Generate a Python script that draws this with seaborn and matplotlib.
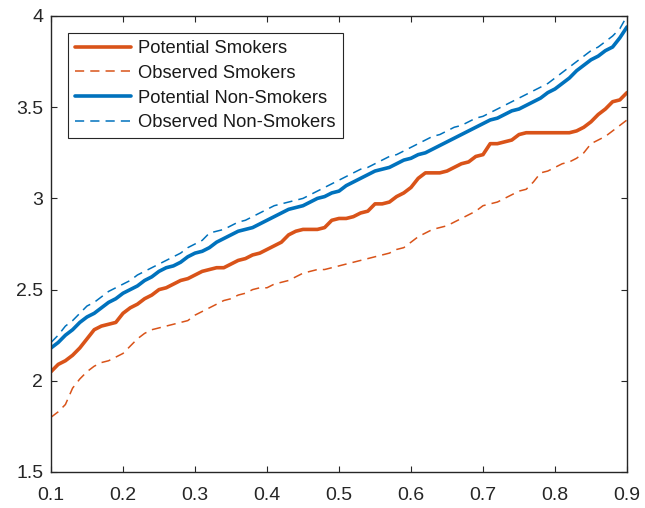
import numpy as np
import pandas as pd
import matplotlib
matplotlib.use("Agg")
import matplotlib.pyplot as plt
import seaborn as sns

quantiles = [round(0.10 + 0.01 * i, 2) for i in range(81)]

potential_smokers = [
    2.05, 2.09, 2.11, 2.14, 2.18, 2.23, 2.28, 2.30, 2.31, 2.32,
    2.37, 2.40, 2.42, 2.45, 2.47, 2.50, 2.51, 2.53, 2.55, 2.56,
    2.58, 2.60, 2.61, 2.62, 2.62, 2.64, 2.66, 2.67, 2.69, 2.70,
    2.72, 2.74, 2.76, 2.80, 2.82, 2.83, 2.83, 2.83, 2.84, 2.88,
    2.89, 2.89, 2.90, 2.92, 2.93, 2.97, 2.97, 2.98, 3.01, 3.03,
    3.06, 3.11, 3.14, 3.14, 3.14, 3.15, 3.17, 3.19, 3.20, 3.23,
    3.24, 3.30, 3.30, 3.31, 3.32, 3.35, 3.36, 3.36, 3.36, 3.36,
    3.36, 3.36, 3.36, 3.37, 3.39, 3.42, 3.46, 3.49, 3.53, 3.54,
    3.58,
]

observed_smokers = [
    1.80, 1.83, 1.87, 1.96, 2.01, 2.05, 2.08, 2.10, 2.11, 2.13,
    2.15, 2.19, 2.23, 2.26, 2.28, 2.29, 2.30, 2.31, 2.32, 2.33,
    2.36, 2.38, 2.40, 2.42, 2.44, 2.45, 2.47, 2.48, 2.50, 2.51,
    2.51, 2.53, 2.54, 2.55, 2.57, 2.59, 2.60, 2.61, 2.61, 2.62,
    2.63, 2.64, 2.65, 2.66, 2.67, 2.68, 2.69, 2.70, 2.72, 2.73,
    2.76, 2.79, 2.81, 2.83, 2.84, 2.85, 2.87, 2.89, 2.91, 2.93,
    2.96, 2.97, 2.98, 3.00, 3.02, 3.04, 3.05, 3.09, 3.14, 3.15,
    3.17, 3.19, 3.20, 3.22, 3.25, 3.30, 3.32, 3.34, 3.37, 3.40,
    3.43,
]

potential_nonsmokers = [
    2.18, 2.21, 2.25, 2.28, 2.32, 2.35, 2.37, 2.40, 2.43, 2.45,
    2.48, 2.50, 2.52, 2.55, 2.57, 2.60, 2.62, 2.63, 2.65, 2.68,
    2.70, 2.71, 2.73, 2.76, 2.78, 2.80, 2.82, 2.83, 2.84, 2.86,
    2.88, 2.90, 2.92, 2.94, 2.95, 2.96, 2.98, 3.00, 3.01, 3.03,
    3.04, 3.07, 3.09, 3.11, 3.13, 3.15, 3.16, 3.17, 3.19, 3.21,
    3.22, 3.24, 3.25, 3.27, 3.29, 3.31, 3.33, 3.35, 3.37, 3.39,
    3.41, 3.43, 3.44, 3.46, 3.48, 3.49, 3.51, 3.53, 3.55, 3.58,
    3.60, 3.63, 3.66, 3.70, 3.73, 3.76, 3.78, 3.81, 3.83, 3.88,
    3.94,
]

observed_nonsmokers = [
    2.21, 2.25, 2.30, 2.33, 2.37, 2.41, 2.43, 2.46, 2.49, 2.51,
    2.53, 2.55, 2.58, 2.60, 2.62, 2.64, 2.66, 2.68, 2.70, 2.73,
    2.75, 2.77, 2.81, 2.82, 2.83, 2.85, 2.87, 2.88, 2.90, 2.92,
    2.94, 2.96, 2.97, 2.98, 2.99, 3.00, 3.02, 3.04, 3.06, 3.08,
    3.10, 3.12, 3.14, 3.16, 3.17, 3.19, 3.21, 3.23, 3.24, 3.26,
    3.28, 3.30, 3.32, 3.34, 3.35, 3.37, 3.39, 3.40, 3.42, 3.44,
    3.45, 3.47, 3.49, 3.51, 3.53, 3.55, 3.57, 3.59, 3.61, 3.63,
    3.66, 3.69, 3.72, 3.75, 3.78, 3.81, 3.83, 3.86, 3.89, 3.93,
    4.00,
]

series_names = ["Potential Smokers", "Observed Smokers",
                "Potential Non-Smokers", "Observed Non-Smokers"]
x_ticks = [0.1, 0.2, 0.3, 0.4, 0.5, 0.6, 0.7, 0.8, 0.9]
x_tick_labels = ["0.1", "0.2", "0.3", "0.4", "0.5", "0.6", "0.7", "0.8", "0.9"]
y_ticks = [1.5, 2.0, 2.5, 3.0, 3.5, 4.0]
y_tick_labels = ["1.5", "2", "2.5", "3", "3.5", "4"]

sns.set_theme(style="white")
plt.rcParams["font.family"] = ["Liberation Sans", "DejaVu Sans"]

orange = "#D95319"
blue = "#0072BD"

fig = plt.figure(figsize=(6.45, 5.08), dpi=100)
ax = fig.add_axes([51 / 645, 1 - 472 / 508, (627 - 51) / 645, (472 - 16) / 508])

styles = [
    (potential_smokers, orange, "-", 2.6),
    (observed_smokers, orange, "--", 1.1),
    (potential_nonsmokers, blue, "-", 2.6),
    (observed_nonsmokers, blue, "--", 1.1),
]
for name, (vals, col, ls, lw) in zip(series_names, styles):
    df = pd.DataFrame({"q": quantiles, "v": vals})
    line_ax = sns.lineplot(data=df, x="q", y="v", ax=ax, color=col, linewidth=lw,
                           label=name, estimator=None, sort=False)
    ln = line_ax.get_lines()[-1]
    ln.set_linestyle(ls)
    if ls == "--":
        ln.set_dashes((6.0, 4.0))

ax.set_xlim(0.1, 0.9)
ax.set_ylim(1.5, 4.0)
ax.set_xticks(x_ticks)
ax.set_xticklabels(x_tick_labels)
ax.set_yticks(y_ticks)
ax.set_yticklabels(y_tick_labels)
ax.set_xlabel("")
ax.set_ylabel("")

for s in ax.spines.values():
    s.set_visible(True)
    s.set_color("#262626")
    s.set_linewidth(1.0)

ax.tick_params(axis="both", which="both", direction="in", length=4.5, width=0.8,
               color="#262626", labelsize=14, labelcolor="#262626",
               top=True, right=True, bottom=True, left=True)
ax.tick_params(axis="x", pad=10.5)
ax.tick_params(axis="y", pad=5.5)

leg = ax.legend(loc="upper left", bbox_to_anchor=(17 / 576, 1 - 17 / 456),
                frameon=True, fancybox=False, framealpha=1.0,
                edgecolor="#262626", fontsize=13.2, handlelength=3.05,
                handletextpad=0.38, borderpad=0.39, labelspacing=0.42,
                borderaxespad=0.0)
leg.get_frame().set_linewidth(0.8)
for t in leg.get_texts():
    t.set_color("#1a1a1a")

fig.savefig("out.png", dpi=100)
